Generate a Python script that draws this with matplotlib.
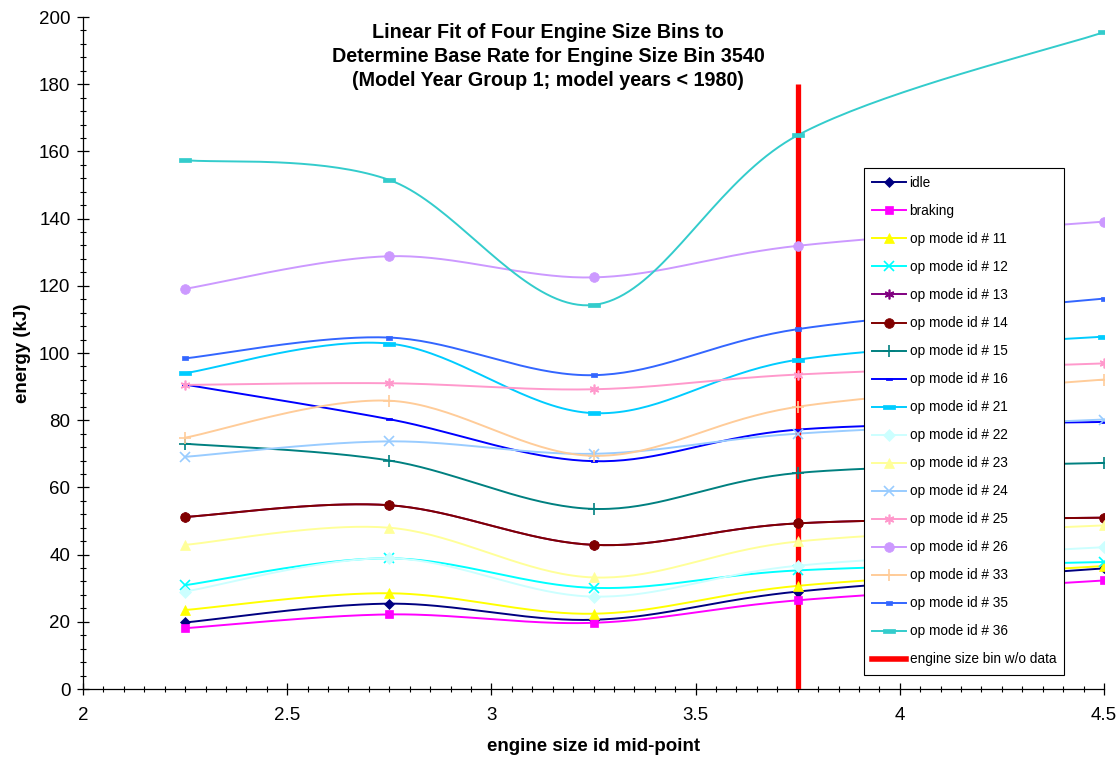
import numpy as np
import matplotlib
matplotlib.use("Agg")
import matplotlib.pyplot as plt
from matplotlib.lines import Line2D
from matplotlib.ticker import MultipleLocator

plt.rcParams['font.family'] = ['Liberation Sans', 'DejaVu Sans']

# engine size id mid-points
engine_mid = [2.25, 2.75, 3.25, 3.75, 4.5]

# energy (kJ) per op mode
idle = [19.8, 25.4, 20.6, 29.0, 35.9]
braking = [18.1, 22.2, 19.7, 26.4, 32.3]
op11 = [23.5, 28.5, 22.4, 30.7, 36.6]
op12 = [30.9, 38.9, 30.1, 35.3, 37.8]
op13 = [51.2, 54.7, 42.9, 49.3, 51.0]
op14 = [51.2, 54.7, 42.9, 49.3, 51.0]
op15 = [73.0, 68.0, 53.6, 64.3, 67.3]
op16 = [90.6, 80.3, 67.8, 77.2, 79.5]
op21 = [94.0, 102.8, 82.1, 98.0, 104.9]
op22 = [29.0, 38.9, 27.5, 36.7, 42.2]
op23 = [42.9, 48.0, 33.2, 43.9, 48.7]
op24 = [69.1, 73.7, 70.0, 76.0, 80.2]
op25 = [90.5, 91.0, 89.2, 93.6, 96.9]
op26 = [119.1, 128.8, 122.5, 131.9, 139.1]
op33 = [74.8, 85.8, 69.4, 84.0, 92.1]
op35 = [98.4, 104.6, 93.4, 107.1, 116.2]
op36 = [157.4, 151.5, 114.3, 164.8, 195.5]

# engine size bin without data
missing_bin = 3.75
missing_span = [0, 180]

series = [
    ("idle", idle, "#000080", "D", 5.5),
    ("braking", braking, "#FF00FF", "s", 6),
    ("op mode id # 11", op11, "#FFFF00", "^", 7),
    ("op mode id # 12", op12, "#00FFFF", "x", 7),
    ("op mode id # 13", op13, "#800080", (6, 2, 0), 7),
    ("op mode id # 14", op14, "#800000", "o", 7),
    ("op mode id # 15", op15, "#008080", "+", 8),
    ("op mode id # 16", op16, "#0000FF", "dash_s", 4),
    ("op mode id # 21", op21, "#00CCFF", "dash", 8),
    ("op mode id # 22", op22, "#CCFFFF", "D", 6),
    ("op mode id # 23", op23, "#FFFF99", "^", 7),
    ("op mode id # 24", op24, "#99CCFF", "x", 7),
    ("op mode id # 25", op25, "#FF99CC", (6, 2, 0), 7),
    ("op mode id # 26", op26, "#CC99FF", "o", 7),
    ("op mode id # 33", op33, "#FFCC99", "+", 8),
    ("op mode id # 35", op35, "#3366FF", "dash_s", 5),
    ("op mode id # 36", op36, "#33CCCC", "dash", 8),
]

DASH = [(-1, -0.28), (1, -0.28), (1, 0.28), (-1, 0.28), (-1, -0.28)]
DASH_S = [(-1, -0.5), (1, -0.5), (1, 0.5), (-1, 0.5), (-1, -0.5)]


def smooth(xs, ys, n=40):
    # excel style smoothed line (bezier, catmull-rom control points)
    p = np.column_stack([xs, ys]).astype(float)
    pe = np.vstack([p[0], p, p[-1]])
    t = np.linspace(0, 1, n)[:, None]
    out = []
    for i in range(len(p) - 1):
        p0, p1, p2, p3 = pe[i], pe[i + 1], pe[i + 2], pe[i + 3]
        c1 = p1 + (p2 - p0) / 6
        c2 = p2 - (p3 - p1) / 6
        seg = (1 - t) ** 3 * p1 + 3 * (1 - t) ** 2 * t * c1 + 3 * (1 - t) * t ** 2 * c2 + t ** 3 * p2
        out.append(seg if i == 0 else seg[1:])
    out = np.vstack(out)
    return out[:, 0], out[:, 1]


fig = plt.figure(figsize=(11.19, 7.61), dpi=100)
ax = fig.add_axes([83 / 1119, 1 - 689 / 761, (1104 - 83) / 1119, (689 - 17) / 761])

handles = []
for label, vals, color, mk, ms in series:
    if mk == "dash":
        mk = DASH
    elif mk == "dash_s":
        mk = DASH_S
    sx, sy = smooth(engine_mid, vals)
    ax.plot(sx, sy, color=color, lw=1.4, zorder=2)
    thin = mk in ("x", "+") or isinstance(mk, tuple)
    ax.plot(engine_mid, vals, ls="none", marker=mk, ms=ms, color=color,
            mec=color, mfc=color, mew=1.2 if thin else 0.5, zorder=4)
    handles.append(Line2D([], [], color=color, lw=1.4, marker=mk, ms=ms,
                          mec=color, mfc=color, mew=1.2 if thin else 0.5, label=label))

ax.plot([missing_bin, missing_bin], missing_span, color="#FF0000", lw=3.8,
        solid_capstyle="butt", zorder=3)
handles.append(Line2D([], [], color="#FF0000", lw=4, label="engine size bin w/o data"))

ax.set_xlim(2, 4.5)
ax.set_ylim(0, 200)
ax.xaxis.set_major_locator(MultipleLocator(0.5))
ax.xaxis.set_minor_locator(MultipleLocator(0.05))
ax.yaxis.set_major_locator(MultipleLocator(20))
ax.yaxis.set_minor_locator(MultipleLocator(4))
ax.set_xticks([2, 2.5, 3, 3.5, 4, 4.5])
ax.set_xticklabels(["2", "2.5", "3", "3.5", "4", "4.5"])
ax.tick_params(which="major", direction="inout", length=8, width=0.9, labelsize=13.5)
ax.tick_params(which="minor", direction="inout", length=5, width=0.8)
ax.tick_params(axis="x", which="major", pad=9)
ax.tick_params(axis="y", which="major", pad=5)
for s in ["top", "right"]:
    ax.spines[s].set_visible(False)
for s in ["left", "bottom"]:
    ax.spines[s].set_linewidth(0.9)

ax.set_xlabel("engine size id mid-point", fontsize=13.5, fontweight="bold", labelpad=10)
ax.set_ylabel("energy (kJ)", fontsize=13.5, fontweight="bold", labelpad=6)

fig.text(548 / 1119, 1 - 23 / 761,
         "Linear Fit of Four Engine Size Bins to\n"
         "Determine Base Rate for Engine Size Bin 3540\n"
         "(Model Year Group 1; model years < 1980)",
         ha="center", va="top", fontsize=14.2, fontweight="bold", linespacing=1.35)

leg = ax.legend(handles=handles, loc="upper left",
                bbox_to_anchor=(864 / 1119, 1 - 168 / 761), bbox_transform=fig.transFigure,
                borderaxespad=0, fontsize=9.8, handlelength=2.5, handletextpad=0.25,
                labelspacing=1.03, borderpad=0.6, fancybox=False, framealpha=1,
                edgecolor="black")
leg.get_frame().set_linewidth(0.8)

fig.savefig("out.png", dpi=100)
